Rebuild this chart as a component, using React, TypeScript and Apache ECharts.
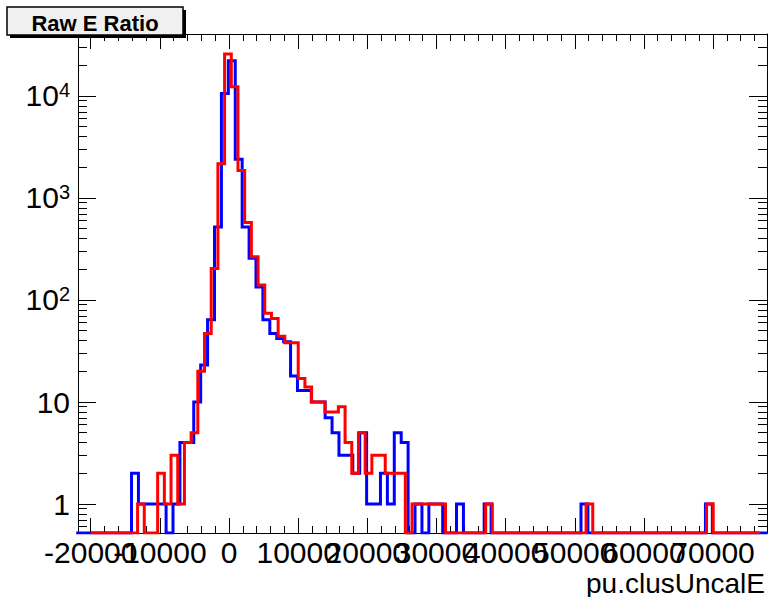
import React, { useEffect, useRef } from "react";
import * as echarts from "echarts";

// Histogram binning (each histogram has its own automatic range, 100 bins)
const BLUE_START = -22100;
const BLUE_WIDTH = 1000;
const RED_START = -20000;
const RED_WIDTH = 968;

// Bin contents
const BLUE_COUNTS = [
  0, 0, 0, 0, 0, 0, 0, 0, 2, 1,
  1, 1, 1, 0, 1, 4, 4, 10, 23, 64,
  520, 10600, 22100, 2400, 520, 256, 134, 64, 47, 42,
  39, 18, 13, 13, 10, 10, 7, 5, 3, 3,
  2, 5, 1, 1, 2, 1, 5, 4, 0, 1,
  0, 1, 1, 0, 0, 1, 0, 0, 0, 1,
  0, 0, 0, 0, 0, 0, 0, 0, 0, 0,
  0, 0, 0, 1, 0, 0, 0, 0, 0, 0,
  0, 0, 0, 0, 0, 0, 0, 0, 0, 0,
  0, 1, 0, 0, 0, 0, 0, 0, 0, 0,
];
const RED_COUNTS = [
  0, 0, 0, 0, 0, 0, 0, 1, 0, 0,
  2, 1, 3, 1, 4, 5, 20, 47, 204, 2170,
  25800, 12300, 1860, 574, 266, 140, 74, 66, 44, 38,
  38, 17, 14, 10, 10, 8, 8, 9, 4, 2,
  5, 2, 3, 3, 2, 2, 2, 0, 1, 1,
  1, 1, 1, 0, 0, 0, 0, 0, 0, 1,
  0, 0, 0, 0, 0, 0, 0, 0, 0, 0,
  0, 0, 0, 0, 1, 0, 0, 0, 0, 0,
  0, 0, 0, 0, 0, 0, 0, 0, 0, 0,
  0, 0, 1, 0, 0, 0, 0, 0, 0, 0,
];

const X_MAJOR_TICKS = [-20000, -10000, 0, 10000, 20000, 30000, 40000, 50000, 60000, 70000];
// tick labels, split over two label rows so that the library does not drop the crowded ones
const X_LABELS_A = [-20000, 0, 10000, 20000, 30000, 40000, 50000, 70000];
const X_LABELS_B = [-10000, 60000];
const X_MINOR_TICKS = [
  -20000, -18000, -16000, -14000, -12000, -10000, -8000, -6000, -4000, -2000,
  0, 2000, 4000, 6000, 8000, 10000, 12000, 14000, 16000, 18000,
  20000, 22000, 24000, 26000, 28000, 30000, 32000, 34000, 36000, 38000,
  40000, 42000, 44000, 46000, 48000, 50000, 52000, 54000, 56000, 58000,
  60000, 62000, 64000, 66000, 68000, 70000, 72000, 74000, 76000,
];
const Y_MAJOR_TICKS = [1, 10, 100, 1000, 10000];
const Y_MINOR_TICKS = [
  0.6, 0.7, 0.8, 0.9,
  2, 3, 4, 5, 6, 7, 8, 9,
  20, 30, 40, 50, 60, 70, 80, 90,
  200, 300, 400, 500, 600, 700, 800, 900,
  2000, 3000, 4000, 5000, 6000, 7000, 8000, 9000,
  20000, 30000, 40000,
];

const X_MIN = -21840;
const X_MAX = 77800;
const Y_MIN = 0.52;
const Y_MAX = 40500;

const TITLE = "Raw E Ratio";
const X_TITLE = "pu.clusUncalE";

const FONT = "'Liberation Sans', Arial, Helvetica, sans-serif";

function stepPoints(start: number, width: number, counts: number[]) {
  const pts: number[][] = [];
  counts.forEach((c, i) => {
    const v = c > 0 ? c : Y_MIN;
    pts.push([start + i * width, v], [start + (i + 1) * width, v]);
  });
  return pts;
}

function yLabel(v: number) {
  const e = Math.round(Math.log10(v));
  if (e === 0) return "1";
  if (e === 1) return "10";
  return "10{s|" + e + "}";
}

export default function App() {
  const ref = useRef<HTMLDivElement>(null);
  useEffect(() => {
    if (!ref.current) return;
    const chart = echarts.init(ref.current, undefined, { renderer: "svg" });
    const black = "#000";
    const xAxisBase = (
      position: string,
      ticks: number[] | null,
      len: number,
      labels: number[] | null,
      line: boolean
    ) => ({
      type: "value",
      position,
      min: X_MIN,
      max: X_MAX,
      axisLine: { show: line, onZero: false, lineStyle: { color: black, width: 1 } },
      axisTick: ticks
        ? { show: true, inside: true, length: len, interval: 0, customValues: ticks, lineStyle: { color: black, width: 1 } }
        : { show: false },
      axisLabel: labels
        ? {
            show: true,
            customValues: labels,
            interval: 0,
            showMinLabel: true,
            showMaxLabel: true,
            hideOverlap: false,
            color: black,
            fontSize: 30,
            fontFamily: FONT,
            margin: 4,
            formatter: (v: number) => String(v),
          }
        : { show: false },
      splitLine: { show: false },
    });
    const yAxisBase = (position: string, ticks: number[], len: number, labels: boolean, line: boolean) => ({
      type: "log",
      logBase: 10,
      position,
      min: Y_MIN,
      max: Y_MAX,
      axisLine: { show: line, onZero: false, lineStyle: { color: black, width: 1 } },
      axisTick: { show: true, inside: true, length: len, interval: 0, customValues: ticks, lineStyle: { color: black, width: 1 } },
      axisLabel: labels
        ? {
            show: true,
            customValues: ticks,
            interval: 0,
            showMinLabel: true,
            showMaxLabel: true,
            color: black,
            fontSize: 30,
            fontFamily: FONT,
            margin: 8,
            formatter: yLabel,
            rich: { s: { fontSize: 20, fontFamily: FONT, color: black, verticalAlign: "top", padding: [0, 0, 12, 0] } },
          }
        : { show: false },
      splitLine: { show: false },
    });
    chart.setOption({
      animation: false,
      backgroundColor: "#fff",
      grid: { left: 78, top: 34, width: 689, height: 499, containLabel: false },
      xAxis: [
        xAxisBase("bottom", X_MAJOR_TICKS, 15, X_LABELS_A, true),
        xAxisBase("bottom", X_MINOR_TICKS, 7, null, false),
        xAxisBase("top", X_MAJOR_TICKS, 15, null, true),
        xAxisBase("top", X_MINOR_TICKS, 7, null, false),
        xAxisBase("bottom", null, 0, X_LABELS_B, false),
      ],
      yAxis: [
        yAxisBase("left", Y_MAJOR_TICKS, 18, true, true),
        yAxisBase("left", Y_MINOR_TICKS, 9, false, false),
        yAxisBase("right", Y_MAJOR_TICKS, 18, false, true),
        yAxisBase("right", Y_MINOR_TICKS, 9, false, false),
      ],
      series: [
        {
          type: "line",
          name: "blue",
          xAxisIndex: 0,
          yAxisIndex: 0,
          data: stepPoints(BLUE_START, BLUE_WIDTH, BLUE_COUNTS),
          showSymbol: false,
          symbol: "none",
          clip: true,
          lineStyle: { color: "#0000ff", width: 3, join: "miter" },
          z: 3,
        },
        {
          type: "line",
          name: "red",
          xAxisIndex: 0,
          yAxisIndex: 0,
          data: stepPoints(RED_START, RED_WIDTH, RED_COUNTS),
          showSymbol: false,
          symbol: "none",
          clip: true,
          lineStyle: { color: "#ff0000", width: 3, join: "miter" },
          z: 4,
        },
      ],
      graphic: [
        { type: "rect", shape: { x: 10, y: 10, width: 176, height: 28 }, style: { fill: "#000" }, z: 10 },
        { type: "rect", shape: { x: 7, y: 7, width: 176, height: 28 }, style: { fill: "#f0f0f0", stroke: "#000", lineWidth: 1.5 }, z: 11 },
        {
          type: "text",
          x: 95,
          y: 23,
          z: 12,
          style: { text: TITLE, fill: "#000", font: "bold 22px " + FONT, textAlign: "center", textVerticalAlign: "middle" },
        },
        {
          type: "text",
          x: 765,
          y: 583,
          z: 12,
          style: { text: X_TITLE, fill: "#000", font: "28px " + FONT, textAlign: "right", textVerticalAlign: "middle" },
        },
      ],
    });
    return () => chart.dispose();
  }, []);
  return <div ref={ref} style={{ position: "fixed", left: 0, top: 0, width: 768, height: 597, background: "#fff" }} />;
}
